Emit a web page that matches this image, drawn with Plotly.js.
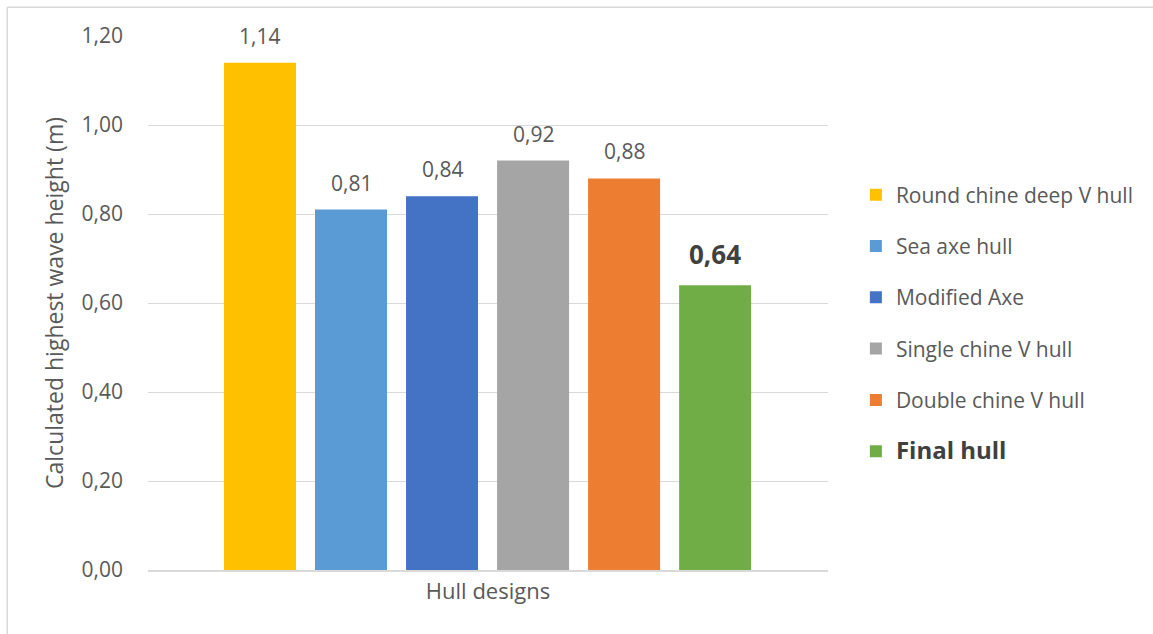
<!DOCTYPE html>
<html>
<head>
<meta charset="utf-8">
<script src="https://cdn.plot.ly/plotly-3.0.1.min.js"></script>
<style>
  html, body { margin: 0; padding: 0; background: #ffffff; }
  #chart { width: 1153px; height: 634px; }
</style>
</head>
<body>
<div id="chart"></div>
<script>
// Hull designs and their calculated highest wave height (m)
const hullNames = [
  "Round chine deep V hull",
  "Sea axe hull",
  "Modified Axe",
  "Single chine V hull",
  "Double chine V hull",
  "Final hull"
];
const waveHeights = [1.14, 0.81, 0.84, 0.92, 0.88, 0.64];
const hullColors = ["#FFC000", "#5B9BD5", "#4472C4", "#A5A5A5", "#ED7D31", "#70AD47"];
const yTickValues = [0, 0.2, 0.4, 0.6, 0.8, 1.0, 1.2];

const textGray = "#595959";
const darkGray = "#404040";
const gridGray = "#d9d9d9";
const highlighted = "Final hull";

function fmt(v) {
  return v.toFixed(2).replace(".", ",");
}

const traces = hullNames.map((name, i) => ({
  type: "bar",
  x: [name],
  y: [waveHeights[i]],
  name: name === highlighted
    ? "<b><span style='font-size:24px;fill:" + darkGray + "'>" + name + "</span></b>"
    : name,
  legendgroup: "g" + i,
  marker: { color: hullColors[i], line: { width: 0 } },
  hoverinfo: "skip"
}));

// value labels above each bar
const labels = hullNames.map((name, i) => {
  const hi = name === highlighted;
  return {
    x: name,
    y: waveHeights[i],
    xref: "x",
    yref: "y",
    yanchor: "bottom",
    yshift: 11,
    showarrow: false,
    text: hi ? "<b>" + fmt(waveHeights[i]) + "</b>" : fmt(waveHeights[i]),
    font: { family: "Open Sans, sans-serif", size: hi ? 26 : 21, color: hi ? darkGray : textGray }
  };
});

const layout = {
  width: 1153,
  height: 634,
  margin: { l: 148, r: 325, t: 36, b: 64 },
  paper_bgcolor: "#ffffff",
  plot_bgcolor: "#ffffff",
  separators: ",.",
  font: { family: "Open Sans, sans-serif", size: 21, color: textGray },
  barmode: "overlay",
  bargap: 0.209,
  showlegend: true,
  legend: {
    x: 1.041,
    xanchor: "left",
    y: 0.4625,
    yanchor: "middle",
    font: { size: 21, color: textGray },
    tracegroupgap: 21,
    traceorder: "grouped",
    itemclick: false,
    itemdoubleclick: false
  },
  xaxis: {
    type: "category",
    range: [-1.23, 6.24],
    showticklabels: false,
    ticks: "",
    showgrid: false,
    showline: true,
    linecolor: gridGray,
    linewidth: 1.5,
    zeroline: false,
    automargin: true,
    title: { text: "Hull designs", font: { size: 22, color: textGray }, standoff: 13 },
    fixedrange: true
  },
  yaxis: {
    range: [0, 1.2],
    tickvals: yTickValues,
    tickformat: ".2f",
    ticks: "",
    ticklabelstandoff: 24,
    showgrid: true,
    gridcolor: gridGray,
    gridwidth: 1,
    zeroline: false,
    showline: false,
    automargin: true,
    tickfont: { size: 21, color: textGray },
    title: { text: "Calculated highest wave height (m)", font: { size: 23, color: textGray }, standoff: 11 },
    fixedrange: true
  },
  annotations: labels,
  shapes: [
    // chart frame (left and top edges)
    { type: "line", xref: "paper", yref: "paper", x0: -0.207, x1: -0.207, y0: -0.12, y1: 1.054,
      line: { color: gridGray, width: 1.5 } },
    { type: "line", xref: "paper", yref: "paper", x0: -0.207, x1: 1.5, y0: 1.054, y1: 1.054,
      line: { color: gridGray, width: 1.5 } }
  ]
};

Plotly.newPlot("chart", traces, layout, { displayModeBar: false, staticPlot: true });
</script>
</body>
</html>
